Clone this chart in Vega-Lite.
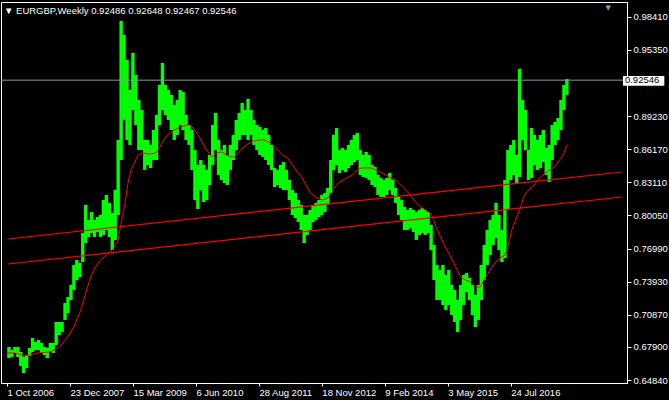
{
"$schema": "https://vega.github.io/schema/vega-lite/v6.json",
"width": 626, "height": 381,
"autosize": {"type": "none"},
"padding": {"left": 1, "top": 2, "right": 42, "bottom": 17},
"background": "#000000",
"config": {"view": {"stroke": "#ffffff", "strokeWidth": 1}, "font": "Liberation Sans", "axis": {"labelOverlap": false, "labelFlush": false, "labelBound": false}},
"title": {"text": "▼  EURGBP,Weekly  0.92486 0.92648 0.92467 0.92546", "anchor": "start", "frame": "group", "color": "#ffffff", "fontSize": 9.5, "fontWeight": "normal", "font": "Liberation Sans", "offset": -13, "dx": 3},
"datasets": {
"bars": [
{"w":2,"h":0.6789,"l":0.6687},{"w":5,"h":0.6761,"l":0.6697},{"w":8,"h":0.6789,"l":0.6734},{"w":11,"h":0.6789,"l":0.6697},{"w":14,"h":0.6743,"l":0.6614},{"w":17,"h":0.6697,"l":0.6549},{"w":20,"h":0.6715,"l":0.6595},{"w":23,"h":0.6780,"l":0.6706},{"w":26,"h":0.6872,"l":0.6743},{"w":29,"h":0.6835,"l":0.6761},{"w":32,"h":0.6854,"l":0.6761},{"w":35,"h":0.6826,"l":0.6734},{"w":38,"h":0.6789,"l":0.6715},{"w":41,"h":0.6780,"l":0.6687},{"w":44,"h":0.6826,"l":0.6743},{"w":47,"h":0.6826,"l":0.6734},
{"w":50,"h":0.7020,"l":0.6807},{"w":53,"h":0.7020,"l":0.6900},{"w":56,"h":0.7020,"l":0.6928},{"w":59,"h":0.7196,"l":0.7039},{"w":62,"h":0.7251,"l":0.7103},{"w":65,"h":0.7362,"l":0.7223},{"w":68,"h":0.7547,"l":0.7316},{"w":71,"h":0.7593,"l":0.7408},{"w":74,"h":0.7565,"l":0.7436},{"w":77,"h":0.7842,"l":0.7574},{"w":80,"h":0.8101,"l":0.7750},{"w":83,"h":0.7963,"l":0.7805},{"w":86,"h":0.8036,"l":0.7842},{"w":89,"h":0.7963,"l":0.7805},{"w":92,"h":0.7990,"l":0.7852},{"w":95,"h":0.8009,"l":0.7805},{"w":98,"h":0.8147,"l":0.7824},
{"w":101,"h":0.8194,"l":0.7870},{"w":104,"h":0.8120,"l":0.7805},{"w":107,"h":0.8027,"l":0.7685},{"w":110,"h":0.8240,"l":0.7778},{"w":113,"h":0.8702,"l":0.8009},{"w":116,"h":0.9801,"l":0.8517},{"w":119,"h":0.9672,"l":0.8887},{"w":122,"h":0.9441,"l":0.8702},{"w":125,"h":0.9164,"l":0.8656},{"w":128,"h":0.9506,"l":0.8979},{"w":131,"h":0.9302,"l":0.8840},{"w":134,"h":0.9071,"l":0.8609},{"w":137,"h":0.8979,"l":0.8609},{"w":140,"h":0.8702,"l":0.8425},{"w":143,"h":0.8702,"l":0.8471},{"w":146,"h":0.8656,"l":0.8443},{"w":149,"h":0.8794,"l":0.8517},
{"w":152,"h":0.8933,"l":0.8517},{"w":155,"h":0.9210,"l":0.8840},{"w":158,"h":0.9413,"l":0.8979},{"w":161,"h":0.9210,"l":0.8933},{"w":164,"h":0.9164,"l":0.8887},{"w":167,"h":0.9118,"l":0.8794},{"w":170,"h":0.9025,"l":0.8702},{"w":173,"h":0.9071,"l":0.8748},{"w":176,"h":0.9164,"l":0.8840},{"w":179,"h":0.9145,"l":0.8794},{"w":182,"h":0.8933,"l":0.8702},{"w":185,"h":0.8840,"l":0.8656},{"w":188,"h":0.8794,"l":0.8425},{"w":191,"h":0.8609,"l":0.8147},{"w":194,"h":0.8471,"l":0.8064},{"w":197,"h":0.8517,"l":0.8240},
{"w":200,"h":0.8471,"l":0.8129},{"w":203,"h":0.8425,"l":0.8147},{"w":206,"h":0.8563,"l":0.8286},{"w":209,"h":0.8840,"l":0.8471},{"w":212,"h":0.8951,"l":0.8609},{"w":215,"h":0.8702,"l":0.8378},{"w":218,"h":0.8609,"l":0.8332},{"w":221,"h":0.8656,"l":0.8304},{"w":224,"h":0.8563,"l":0.8286},{"w":227,"h":0.8656,"l":0.8425},{"w":230,"h":0.8748,"l":0.8517},{"w":233,"h":0.8887,"l":0.8609},{"w":236,"h":0.8951,"l":0.8702},{"w":239,"h":0.9044,"l":0.8748},{"w":242,"h":0.8979,"l":0.8748},{"w":245,"h":0.9081,"l":0.8702},{"w":248,"h":0.8979,"l":0.8748},
{"w":251,"h":0.8887,"l":0.8656},{"w":254,"h":0.8840,"l":0.8609},{"w":257,"h":0.8822,"l":0.8563},{"w":260,"h":0.8794,"l":0.8545},{"w":263,"h":0.8813,"l":0.8517},{"w":266,"h":0.8748,"l":0.8471},{"w":269,"h":0.8656,"l":0.8425},{"w":272,"h":0.8443,"l":0.8267},{"w":275,"h":0.8425,"l":0.8286},{"w":278,"h":0.8471,"l":0.8258},{"w":281,"h":0.8498,"l":0.8240},{"w":284,"h":0.8425,"l":0.8240},{"w":287,"h":0.8332,"l":0.8147},{"w":290,"h":0.8240,"l":0.8009},{"w":293,"h":0.8212,"l":0.7981},{"w":296,"h":0.8147,"l":0.7944},{"w":299,"h":0.8101,"l":0.7870},
{"w":302,"h":0.8009,"l":0.7750},{"w":305,"h":0.8009,"l":0.7824},{"w":308,"h":0.8055,"l":0.7870},{"w":311,"h":0.8101,"l":0.7944},{"w":314,"h":0.8120,"l":0.7963},{"w":317,"h":0.8147,"l":0.7990},{"w":320,"h":0.8194,"l":0.8009},{"w":323,"h":0.8212,"l":0.8036},{"w":326,"h":0.8258,"l":0.8101},{"w":329,"h":0.8517,"l":0.8212},{"w":332,"h":0.8748,"l":0.8425},{"w":335,"h":0.8813,"l":0.8471},{"w":338,"h":0.8609,"l":0.8397},{"w":341,"h":0.8628,"l":0.8425},{"w":344,"h":0.8609,"l":0.8406},{"w":347,"h":0.8656,"l":0.8443},
{"w":350,"h":0.8702,"l":0.8471},{"w":353,"h":0.8748,"l":0.8498},{"w":356,"h":0.8766,"l":0.8517},{"w":359,"h":0.8609,"l":0.8378},{"w":362,"h":0.8563,"l":0.8360},{"w":365,"h":0.8591,"l":0.8351},{"w":368,"h":0.8563,"l":0.8332},{"w":371,"h":0.8471,"l":0.8286},{"w":374,"h":0.8452,"l":0.8267},{"w":377,"h":0.8378,"l":0.8194},{"w":380,"h":0.8351,"l":0.8175},{"w":383,"h":0.8332,"l":0.8175},{"w":386,"h":0.8351,"l":0.8194},{"w":389,"h":0.8397,"l":0.8240},{"w":392,"h":0.8332,"l":0.8194},{"w":395,"h":0.8258,"l":0.8120},{"w":398,"h":0.8175,"l":0.8009},
{"w":401,"h":0.8147,"l":0.7963},{"w":404,"h":0.8083,"l":0.7870},{"w":407,"h":0.8055,"l":0.7870},{"w":410,"h":0.8073,"l":0.7889},{"w":413,"h":0.8055,"l":0.7852},{"w":416,"h":0.8036,"l":0.7778},{"w":419,"h":0.8055,"l":0.7824},{"w":422,"h":0.8073,"l":0.7842},{"w":425,"h":0.8055,"l":0.7824},{"w":428,"h":0.8036,"l":0.7842},{"w":431,"h":0.7916,"l":0.7685},{"w":434,"h":0.7731,"l":0.7408},{"w":437,"h":0.7547,"l":0.7223},{"w":440,"h":0.7501,"l":0.7223},{"w":443,"h":0.7547,"l":0.7177},{"w":446,"h":0.7454,"l":0.7131},{"w":449,"h":0.7501,"l":0.7177},
{"w":452,"h":0.7362,"l":0.7085},{"w":455,"h":0.7316,"l":0.7020},{"w":458,"h":0.7223,"l":0.6928},{"w":461,"h":0.7362,"l":0.7039},{"w":464,"h":0.7454,"l":0.7177},{"w":467,"h":0.7473,"l":0.7297},{"w":470,"h":0.7427,"l":0.7223},{"w":473,"h":0.7362,"l":0.7085},{"w":476,"h":0.7270,"l":0.6974},{"w":479,"h":0.7362,"l":0.7039},{"w":482,"h":0.7547,"l":0.7223},{"w":485,"h":0.7731,"l":0.7408},{"w":488,"h":0.7870,"l":0.7547},{"w":491,"h":0.7963,"l":0.7639},{"w":494,"h":0.8009,"l":0.7731},{"w":497,"h":0.8120,"l":0.7796},
{"w":500,"h":0.8009,"l":0.7685},{"w":503,"h":0.7870,"l":0.7574},{"w":506,"h":0.8332,"l":0.7611},{"w":509,"h":0.8609,"l":0.8055},{"w":512,"h":0.8656,"l":0.8332},{"w":515,"h":0.8702,"l":0.8378},{"w":518,"h":0.8563,"l":0.8304},{"w":521,"h":0.9358,"l":0.8360},{"w":524,"h":0.9071,"l":0.8702},{"w":527,"h":0.8979,"l":0.8609},{"w":530,"h":0.8609,"l":0.8332},{"w":533,"h":0.8813,"l":0.8351},{"w":536,"h":0.8748,"l":0.8471},{"w":539,"h":0.8702,"l":0.8425},{"w":542,"h":0.8748,"l":0.8443},{"w":545,"h":0.8794,"l":0.8498},{"w":548,"h":0.8628,"l":0.8378},
{"w":551,"h":0.8656,"l":0.8314},{"w":554,"h":0.8840,"l":0.8517},{"w":557,"h":0.8868,"l":0.8656},{"w":560,"h":0.8905,"l":0.8702},{"w":563,"h":0.9071,"l":0.8794},{"w":566,"h":0.9210,"l":0.8979},{"w":569,"h":0.9265,"l":0.9118}
],
"ma": [
{"w":0,"p":0.6734},{"w":8,"p":0.6734},{"w":18,"p":0.6706},{"w":31,"p":0.6734},{"w":43,"p":0.6743},{"w":48,"p":0.6761},{"w":55,"p":0.6807},{"w":61,"p":0.6872},{"w":68,"p":0.6974},{"w":75,"p":0.7131},{"w":80,"p":0.7288},{"w":85,"p":0.7436},{"w":90,"p":0.7528},{"w":95,"p":0.7593},{"w":101,"p":0.7639},{"w":108,"p":0.7695},{"w":113,"p":0.7778},{"w":116,"p":0.7935},{"w":120,"p":0.8120},{"w":123,"p":0.8304},{"w":126,"p":0.8425},{"w":130,"p":0.8498},{"w":133,"p":0.8563},{"w":138,"p":0.8582},{"w":145,"p":0.8572},{"w":151,"p":0.8582},{"w":155,"p":0.8628},{"w":158,"p":0.8683},{"w":163,"p":0.8748},{"w":170,"p":0.8794},{"w":176,"p":0.8822},{"w":183,"p":0.8840},{"w":186,"p":0.8840},{"w":191,"p":0.8794},{"w":196,"p":0.8720},{"w":201,"p":0.8637},{"w":205,"p":0.8582},{"w":208,"p":0.8545},{"w":213,"p":0.8582},{"w":218,"p":0.8591},{"w":223,"p":0.8563},{"w":228,"p":0.8545},{"w":231,"p":0.8545},{"w":236,"p":0.8591},{"w":241,"p":0.8637},{"w":246,"p":0.8674},{"w":251,"p":0.8692},{"w":256,"p":0.8702},{"w":261,"p":0.8702},{"w":266,"p":0.8683},{"w":270,"p":0.8656},{"w":275,"p":0.8609},{"w":280,"p":0.8563},{"w":285,"p":0.8535},{"w":290,"p":0.8471},{"w":295,"p":0.8406},{"w":300,"p":0.8351},{"w":305,"p":0.8267},{"w":308,"p":0.8212},{"w":315,"p":0.8166},{"w":321,"p":0.8147},{"w":326,"p":0.8166},{"w":330,"p":0.8212},{"w":333,"p":0.8267},{"w":338,"p":0.8314},{"w":345,"p":0.8351},{"w":351,"p":0.8378},{"w":356,"p":0.8425},{"w":360,"p":0.8443},{"w":365,"p":0.8443},{"w":370,"p":0.8443},{"w":375,"p":0.8425},{"w":381,"p":0.8397},{"w":388,"p":0.8360},{"w":395,"p":0.8332},{"w":400,"p":0.8286},{"w":405,"p":0.8240},{"w":408,"p":0.8212},{"w":415,"p":0.8129},{"w":420,"p":0.8083},{"w":425,"p":0.8055},{"w":430,"p":0.8027},{"w":433,"p":0.7981},{"w":436,"p":0.7898},{"w":441,"p":0.7796},{"w":446,"p":0.7704},{"w":451,"p":0.7621},{"w":456,"p":0.7528},{"w":461,"p":0.7436},{"w":466,"p":0.7408},{"w":471,"p":0.7390},{"w":476,"p":0.7343},{"w":481,"p":0.7343},{"w":486,"p":0.7427},{"w":491,"p":0.7501},{"w":496,"p":0.7565},{"w":501,"p":0.7611},{"w":505,"p":0.7630},{"w":508,"p":0.7676},{"w":513,"p":0.7870},{"w":518,"p":0.7990},{"w":522,"p":0.8083},{"w":525,"p":0.8175},{"w":528,"p":0.8221},{"w":535,"p":0.8277},{"w":541,"p":0.8351},{"w":550,"p":0.8415},{"w":555,"p":0.8443},{"w":558,"p":0.8471},{"w":563,"p":0.8535},{"w":566,"p":0.8582},{"w":569,"p":0.8654}
],
"chan": [
{"line":"upper","w":1,"p":0.7787},{"line":"upper","w":625,"p":0.8406},
{"line":"lower","w":1,"p":0.7556},{"line":"lower","w":625,"p":0.8175}
],
"last": [{"close":0.92546}],
"marker": [{"sym":"▼"}]
},
"layer": [
{"data": {"name": "bars"}, "mark": {"type": "bar", "width": 3.4, "color": "#00ff00"},
 "encoding": {
  "x": {"field": "w", "type": "quantitative", "title": null, "scale": {"domain": [-1, 625], "nice": false, "zero": false},
        "axis": {"values": [0, 64, 128, 192, 256, 320, 384, 448, 512], "tickCount": 30, "labelExpr": "['1 Oct 2006','23 Dec 2007','15 Mar 2009','6 Jun 2010','28 Aug 2011','18 Nov 2012','9 Feb 2014','3 May 2015','24 Jul 2016'][round(datum.value/64)]", "labelAlign": "left", "labelBaseline": "top", "labelColor": "#ffffff", "labelFont": "Liberation Sans", "labelFontSize": 9.5, "tickColor": "#ffffff", "tickSize": 3, "domainColor": "#ffffff", "labelPadding": 1, "grid": false, "labelFlush": false, "labelOverlap": false}},
  "y": {"field": "l", "type": "quantitative", "title": null, "scale": {"domain": [0.64564, 0.99768], "nice": false, "zero": false},
        "axis": {"orient": "right", "values": [0.6484, 0.679, 0.7087, 0.7393, 0.7699, 0.8005, 0.8311, 0.8617, 0.8923, 0.9535, 0.9841], "tickCount": 30, "format": ".5f", "labelColor": "#ffffff", "labelFont": "Liberation Sans", "labelFontSize": 9.5, "tickColor": "#ffffff", "tickSize": 4, "domainColor": "#ffffff", "labelPadding": 2, "grid": false, "labelFlush": false, "labelOverlap": false, "labelBound": false}},
  "y2": {"field": "h"}
 }},
{"data": {"name": "chan"}, "mark": {"type": "line", "color": "#ff0000", "strokeWidth": 1.2},
 "encoding": {"x": {"field": "w", "type": "quantitative", "title": null}, "y": {"field": "p", "type": "quantitative", "title": null}, "detail": {"field": "line"}}},
{"data": {"name": "ma"}, "mark": {"type": "line", "color": "#ff0000", "strokeWidth": 1},
 "encoding": {"x": {"field": "w", "type": "quantitative", "title": null}, "y": {"field": "p", "type": "quantitative", "title": null}}},
{"data": {"name": "last"}, "mark": {"type": "rule", "color": "#8a96a8", "strokeWidth": 1},
 "encoding": {"y": {"field": "close", "type": "quantitative", "title": null}}},
{"data": {"name": "last"}, "mark": {"type": "rect", "color": "#ffffff", "clip": false},
 "encoding": {"x": {"datum": 626}, "x2": {"datum": 668}, "y": {"datum": 0.9294}, "y2": {"datum": 0.9203}}},
{"data": {"name": "last"}, "mark": {"type": "text", "align": "left", "baseline": "middle", "color": "#000000", "font": "Liberation Sans", "fontSize": 9.5},
 "encoding": {"x": {"datum": 628}, "y": {"field": "close", "type": "quantitative", "title": null}, "text": {"field": "close", "type": "quantitative", "format": ".5f"}}},
{"data": {"name": "marker"}, "mark": {"type": "text", "align": "center", "baseline": "middle", "color": "#9a9a9a", "font": "DejaVu Sans", "fontSize": 7},
 "encoding": {"x": {"datum": 611}, "y": {"datum": 0.9925}, "text": {"field": "sym"}}}
]
}
